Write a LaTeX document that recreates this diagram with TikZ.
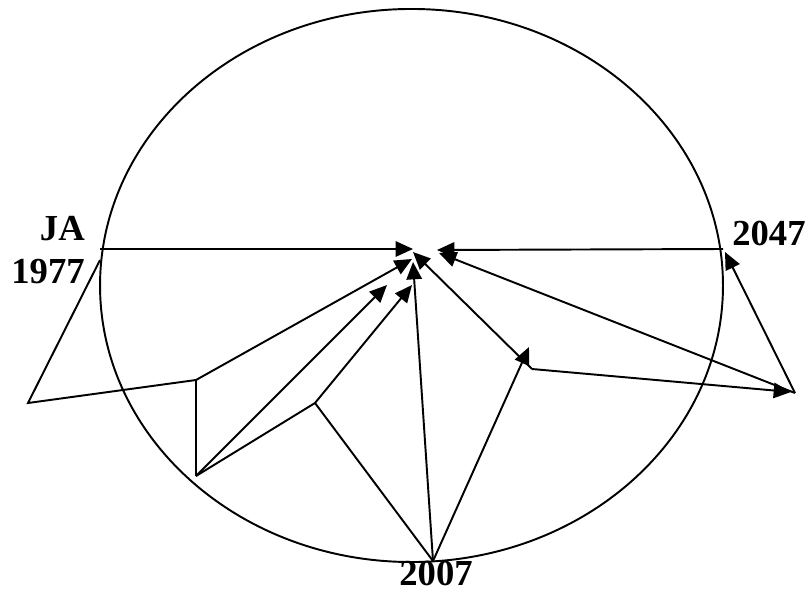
\documentclass[tikz,border=0pt]{standalone}
\usepackage{fontspec}
\setmainfont{Liberation Serif}
\usepackage{tikz}
\usetikzlibrary{arrows.meta, positioning, calc}
\tikzstyle{line}  = [line width=1.45pt, line join=miter]
\tikzstyle{arrow} = [line, -{Triangle[length=13pt,width=11.5pt]}]
\tikzstyle{year}  = [font=\bfseries\fontsize{27.5}{32.5}\selectfont, inner sep=0pt]

\begin{document}
\begin{tikzpicture}[x=0.75pt, y=-0.75pt]
  \useasboundingbox (0,0) rectangle (806,592);

  % --- cycle ---
  \draw[line] (411.5,285.5) ellipse [x radius=233.6pt, y radius=207.4pt];

  % --- points on and around the cycle ---
  \coordinate (ja)    at (100,249);
  \coordinate (jb)    at (100,260);
  \coordinate (out_l) at (28,403);
  \coordinate (p1)    at (196,380);
  \coordinate (p2)    at (196,476);
  \coordinate (p3)    at (315,403);
  \coordinate (bot)   at (433,561);
  \coordinate (q1)    at (532,369);
  \coordinate (out_r) at (795,393);
  \coordinate (rr)    at (723,249);

  % --- arrow tips at the centre ---
  \coordinate (t_ja)  at (413,249);
  \coordinate (t_p1)  at (412,259);
  \coordinate (t_bot) at (413,262);
  \coordinate (t_q1)  at (413,252);
  \coordinate (t_p2)  at (387,285);
  \coordinate (t_p3)  at (412,285);
  \coordinate (t_rr)  at (437,250);
  \coordinate (t_r1)  at (439,253);
  % other tips
  \coordinate (t_q)   at (529,347);
  \coordinate (t_o)   at (791,392);
  \coordinate (t_up)  at (725,252);

  % --- labels ---
  \node (l_ja)   [year, align=right, anchor=north east] at (85,216) {JA\\1977};
  \node (l_2047) [year, anchor=base west] at (732,245) {2047};
  \node (l_2007) [year, anchor=base] at (436,585.5) {2007};

  % Arrows
  \draw[arrow] (ja) -- (t_ja);
  \draw[arrow] (rr) -- (t_rr);
  \draw[arrow] (jb) -- (out_l) -- (p1) -- (t_p1);
  \draw[line]  (p1) -- (p2);
  \draw[arrow] (p2) -- (t_p2);
  \draw[arrow] (p2) -- (p3) -- (t_p3);
  \draw[line]  (p3) -- (bot);
  \draw[arrow] (bot) -- (t_bot);
  \draw[arrow] (bot) -- (t_q);
  \draw[arrow] (q1) -- (t_q1);
  \draw[arrow] (q1) -- (t_o);
  \draw[arrow] (out_r) -- (t_up);
  \draw[arrow] (out_r) -- (t_r1);

\end{tikzpicture}
\end{document}
